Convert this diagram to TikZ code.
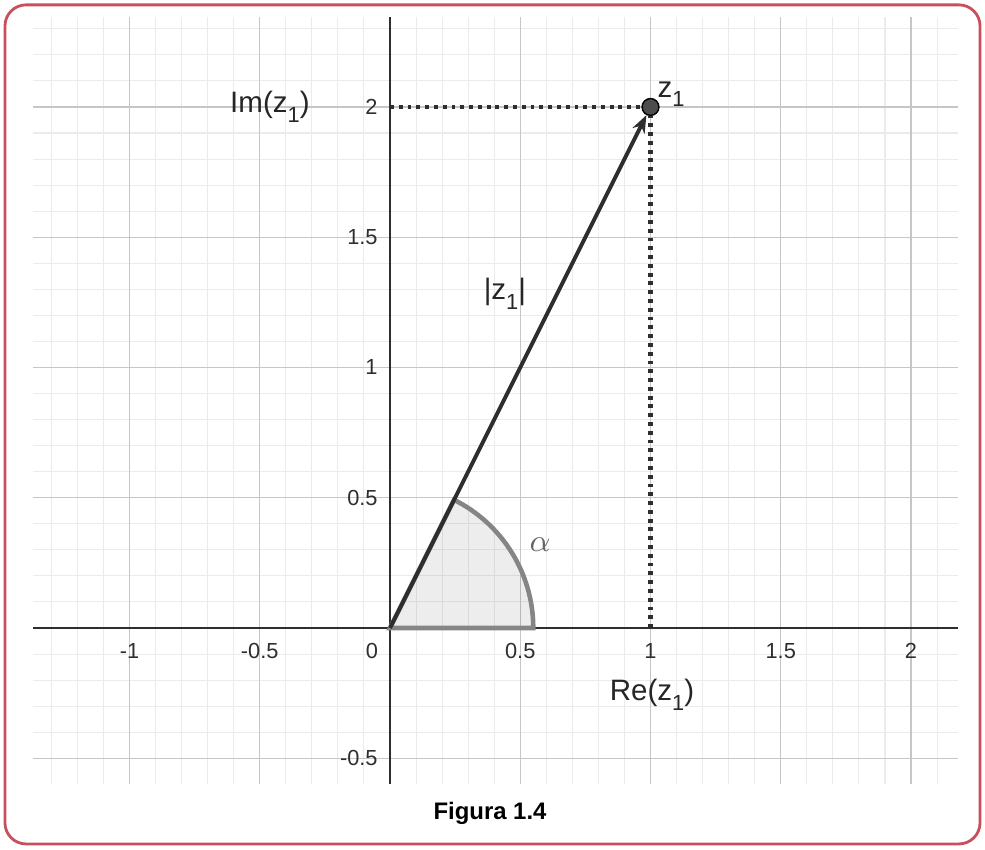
\documentclass[tikz,border=0pt]{standalone}
\usepackage{fontspec}
\setmainfont{Liberation Sans}
\usepackage{tikz}
\usetikzlibrary{arrows.meta,positioning,calc}
\definecolor{cnFrame}{HTML}{C8505C}
\definecolor{cnMinor}{HTML}{EBEBEB}
\definecolor{cnMajor}{HTML}{C6C6C6}
\definecolor{cnInk}{HTML}{2E2E2E}
\definecolor{cnArc}{HTML}{858585}
\newcommand{\zone}{z\raisebox{-0.33em}{\scalebox{0.74}{1}}}

\begin{document}
\begin{tikzpicture}[x=2.605cm,y=2.605cm,
    ticklbl/.style={inner sep=0pt,text=cnInk,font=\fontsize{6.2}{7}\selectfont},
    axlbl/.style={inner sep=0pt,text=black!85,font=\fontsize{8.4}{10}\selectfont},
    vec/.style={draw=cnInk,line width=1.1pt,-{Stealth[length=5pt,width=3.8pt]}},
    dotline/.style={draw=cnInk,line width=1.15pt,dash pattern=on 1.1pt off 1.4pt},
    zpoint/.style={circle,draw=black,fill=cnInk!85,line width=0.4pt,
                   inner sep=0pt,minimum size=4.8pt}]
  \useasboundingbox (-1.4971,-0.8484) rectangle (2.2841,2.4107);
  \draw[cnFrame,line width=0.8pt,rounded corners=6pt]
    (-1.478,-0.829) rectangle (2.265,2.392);
  % grid and axes
  \draw[cnMinor,line width=0.3pt,step=0.1] (-1.37,-0.6) grid (2.18,2.345);
  \draw[cnMajor,line width=0.4pt,step=0.5] (-1.37,-0.6) grid (2.18,2.345);
  \draw[cnInk,line width=0.55pt] (-1.37,0) -- (2.18,0);
  \draw[cnInk,line width=0.55pt] (0,-0.6) -- (0,2.345);
  \foreach \xv [count=\i] in {-1,-0.5,0.5,1,1.5,2}
    \node[ticklbl] (xt\i) at (\xv,-0.088) {\xv};
  \node[ticklbl] (xt0) at (-0.069,-0.088) {0};
  \foreach \yv [count=\j] in {-0.5,0.5,1,1.5,2}
    \node[ticklbl,anchor=east] (yt\j) at (-0.045,\yv) {\yv};
  % angle
  \coordinate (O) at (0,0);
  \filldraw[draw=cnArc,fill=black,fill opacity=0.07,line width=1.3pt]
    (O) -- (0.55,0) arc[start angle=0,end angle=63.435,radius=0.55] -- cycle;
  \node[text=black!60,font=\fontsize{9.5}{11}\selectfont] (alpha) at (0.576,0.319) {$\alpha$};
  % point and projections
  \node[zpoint] (z1) at (1,2) {};
  \coordinate (imax) at (0,2);
  \coordinate (reax) at (1,0);
  \draw[dotline] (imax) -- (z1);
  \draw[dotline] (reax) -- (z1);
  \draw[vec] (O) -- (z1);
  \node[axlbl,above right=-2pt and 0pt of z1] (z1lbl) {\zone};
  \node[axlbl] (imlbl) at (-0.461,2.0) {Im(\zone)};
  \node[axlbl] (relbl) at (1.006,-0.257) {Re(\zone)};
  \node[axlbl] (modlbl) at (0.441,1.282) {|\zone|};
  \node[font=\fontsize{6.8}{8}\selectfont\bfseries] (cap) at (0.384,-0.71) {Figura 1.4};
\end{tikzpicture}
\end{document}
